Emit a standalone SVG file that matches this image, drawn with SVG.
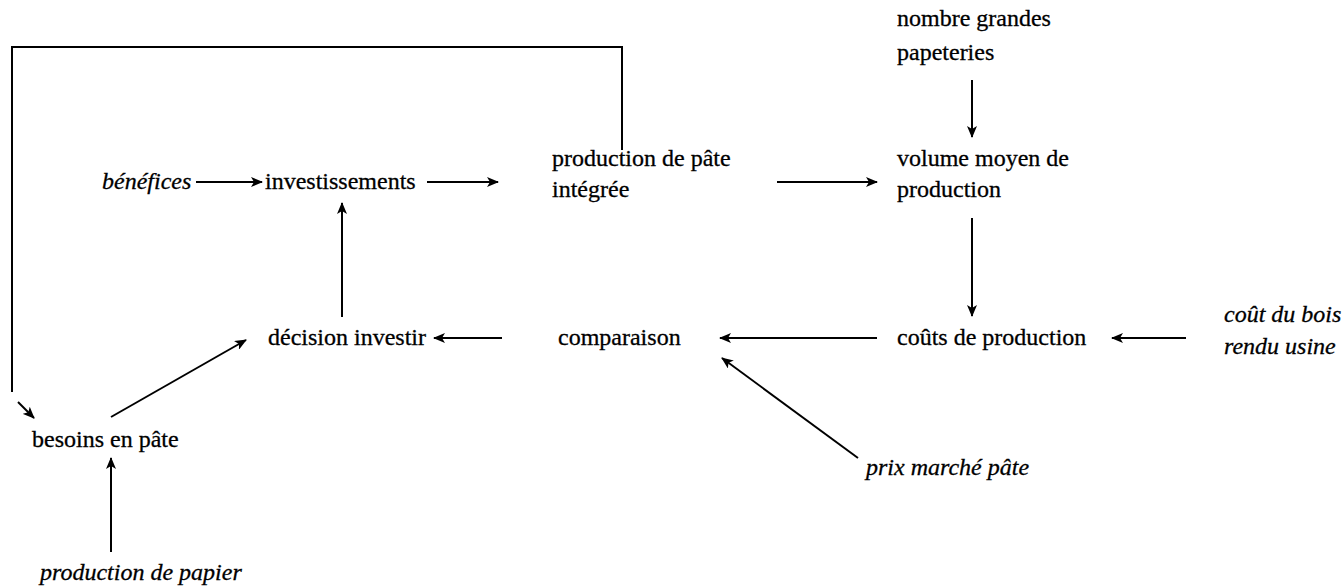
<svg xmlns="http://www.w3.org/2000/svg" width="1342" height="586" viewBox="0 0 1342 586">
  <defs>
    <marker id="head" viewBox="0 0 12 10" refX="11" refY="5" markerWidth="12" markerHeight="10" markerUnits="userSpaceOnUse" orient="auto">
      <path d="M0,0 L12,5 L0,10 L3,5 Z" fill="#000"/>
    </marker>
  </defs>
  <style>
    text { font-family: "Liberation Serif", "Times New Roman", serif; font-size: 24px; fill: #000; stroke: #000; stroke-width: 0.3; }
    .ext { font-style: italic; }
    .link { fill: none; stroke: #000; stroke-width: 2; }
    .arrow { marker-end: url(#head); }
  </style>
  <rect width="1342" height="586" fill="#fff"/>

  <g id="connectors">
    <!-- feedback loop: integrated pulp production back to pulp needs -->
    <polyline class="link" points="622,150 622,47 12,47 12,392"/>
    <line class="link arrow" x1="18" y1="402" x2="34" y2="418"/>
    <!-- main chain -->
    <line class="link arrow" x1="196" y1="182" x2="262" y2="182"/>
    <line class="link arrow" x1="427" y1="182" x2="498" y2="182"/>
    <line class="link arrow" x1="777" y1="182" x2="877" y2="182"/>
    <line class="link arrow" x1="972" y1="80" x2="972" y2="137"/>
    <line class="link arrow" x1="972" y1="218" x2="972" y2="316"/>
    <line class="link arrow" x1="1186" y1="338" x2="1112" y2="338"/>
    <line class="link arrow" x1="877" y1="338" x2="720" y2="338"/>
    <line class="link arrow" x1="858" y1="458" x2="722" y2="358"/>
    <line class="link arrow" x1="502" y1="338" x2="434" y2="338"/>
    <line class="link arrow" x1="342" y1="317" x2="342" y2="203"/>
    <line class="link arrow" x1="111" y1="417" x2="246" y2="340"/>
    <line class="link arrow" x1="111" y1="552" x2="111" y2="458"/>
  </g>

  <g id="benefices"><text class="ext" x="102" y="189">bénéfices</text></g>
  <g id="investissements"><text x="265" y="189">investissements</text></g>
  <g id="production-pate"><text x="552" y="166">production de pâte</text><text x="552" y="197">intégrée</text></g>
  <g id="nombre-papeteries"><text x="897" y="26">nombre grandes</text><text x="897" y="60">papeteries</text></g>
  <g id="volume-moyen"><text x="897" y="166">volume moyen de</text><text x="897" y="197">production</text></g>
  <g id="couts-production"><text x="897" y="345">coûts de production</text></g>
  <g id="cout-bois"><text class="ext" x="1224" y="322">coût du bois</text><text class="ext" x="1224" y="354">rendu usine</text></g>
  <g id="comparaison"><text x="558" y="345">comparaison</text></g>
  <g id="decision-investir"><text x="268" y="345">décision investir</text></g>
  <g id="prix-marche"><text class="ext" x="866" y="475">prix marché pâte</text></g>
  <g id="besoins-pate"><text x="32" y="447">besoins en pâte</text></g>
  <g id="production-papier"><text class="ext" x="40" y="580">production de papier</text></g>
</svg>
